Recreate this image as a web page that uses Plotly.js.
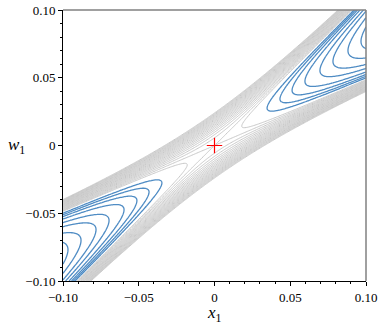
<!DOCTYPE html>
<html>
<head>
<meta charset="utf-8">
<script src="https://cdn.plot.ly/plotly-3.0.1.min.js"></script>
<style>
  html, body { margin: 0; padding: 0; background: #fff; }
  #chart { width: 382px; height: 327px; }
</style>
</head>
<body>
<div id="chart"></div>
<script>
// saddle surface f = (w - a x)(w - b x), slopes
const slopeA = 0.48;
const slopeB = 1.11;

// gray levels: evenly spaced from just below zero up to the band edge
const grayStep = 3.2e-5;
const grayFrom = -1;
const grayTo = 18;

// blue levels, given by where each blue curve turns (x1 of leftmost point)
const blueTurns = [0.0347, 0.0432, 0.0512, 0.0597, 0.0696, 0.0782, 0.0881, 0.0967];

const tickVals = [-0.1, -0.05, 0, 0.05, 0.1];
const tickText = ['\u22120.10', '\u22120.05', '0', '0.05', '0.10'];

const saddleX = [0];
const saddleY = [0];

const gridN = 241;
const xs = [], ws = [];
for (let i = 0; i < gridN; i++) {
  xs.push(-0.1 + 0.2 * i / (gridN - 1));
  ws.push(-0.1 + 0.2 * i / (gridN - 1));
}

const half = (slopeB - slopeA) / 2;
const zGray = ws.map(w => xs.map(x => (w - slopeA * x) * (w - slopeB * x)));
// turning-point scale: f = -(half * xTurn)^2 on each negative level
const zBlue = zGray.map(row => row.map(f => Math.sqrt(Math.max(0, -f)) / half));

const traces = [];

traces.push({
  type: 'contour',
  x: xs, y: ws, z: zGray,
  autocontour: false,
  contours: { coloring: 'lines', start: grayFrom * grayStep, end: grayTo * grayStep, size: grayStep },
  colorscale: [[0, '#c8c8c8'], [1, '#c8c8c8']],
  line: { width: 1, smoothing: 1 },
  showscale: false,
  hoverinfo: 'skip'
});

blueTurns.forEach(lv => {
  traces.push({
    type: 'contour',
    x: xs, y: ws, z: zBlue,
    autocontour: false,
    contours: { coloring: 'lines', start: lv, end: lv, size: 1 },
    colorscale: [[0, '#4f8cc4'], [1, '#4f8cc4']],
    line: { width: 1.3, smoothing: 1 },
    showscale: false,
    hoverinfo: 'skip'
  });
});

traces.push({
  type: 'scatter',
  mode: 'markers',
  x: saddleX, y: saddleY,
  marker: { symbol: 'cross-thin', size: 11, line: { color: '#ff0000', width: 1.2 } },
  hoverinfo: 'skip'
});

const serif = 'Liberation Serif, Times New Roman, serif';
const tickFont = { family: serif, size: 13, color: '#000' };

const axisBase = {
  range: [-0.1, 0.1],
  tickmode: 'array',
  tickvals: tickVals,
  ticktext: tickText,
  ticks: 'outside',
  ticklen: 4,
  tickwidth: 1,
  tickcolor: '#000',
  showline: true,
  linecolor: '#000',
  linewidth: 1,
  showgrid: false,
  zeroline: false,
  tickfont: tickFont,
  minor: { tickmode: 'linear', tick0: -0.1, dtick: 0.01, ticks: 'outside', ticklen: 2, tickcolor: '#000', showgrid: false }
};

const layout = {
  width: 382,
  height: 327,
  margin: { l: 63, r: 16, t: 10, b: 46 },
  paper_bgcolor: '#fff',
  plot_bgcolor: '#fff',
  showlegend: false,
  xaxis: Object.assign({}, axisBase),
  yaxis: Object.assign({}, axisBase),
  shapes: [
    { type: 'line', xref: 'paper', yref: 'paper', x0: 0, x1: 1, y0: 1, y1: 1, line: { color: '#808080', width: 1.5 } },
    { type: 'line', xref: 'paper', yref: 'paper', x0: 1, x1: 1, y0: 0, y1: 1, line: { color: '#808080', width: 1.5 } }
  ],
  annotations: [
    { xref: 'paper', yref: 'paper', x: 0.5, y: 0, yanchor: 'top', yshift: -20, text: '<i>x</i><sub>1</sub>', showarrow: false,
      font: { family: serif, size: 17, color: '#000' } },
    { xref: 'paper', yref: 'paper', x: 0, y: 0.5, xanchor: 'center', xshift: -47, text: '<i>w</i><sub>1</sub>', showarrow: false,
      font: { family: serif, size: 17, color: '#000' } }
  ]
};

Plotly.newPlot('chart', traces, layout, { staticPlot: true, displayModeBar: false });
</script>
</body>
</html>
